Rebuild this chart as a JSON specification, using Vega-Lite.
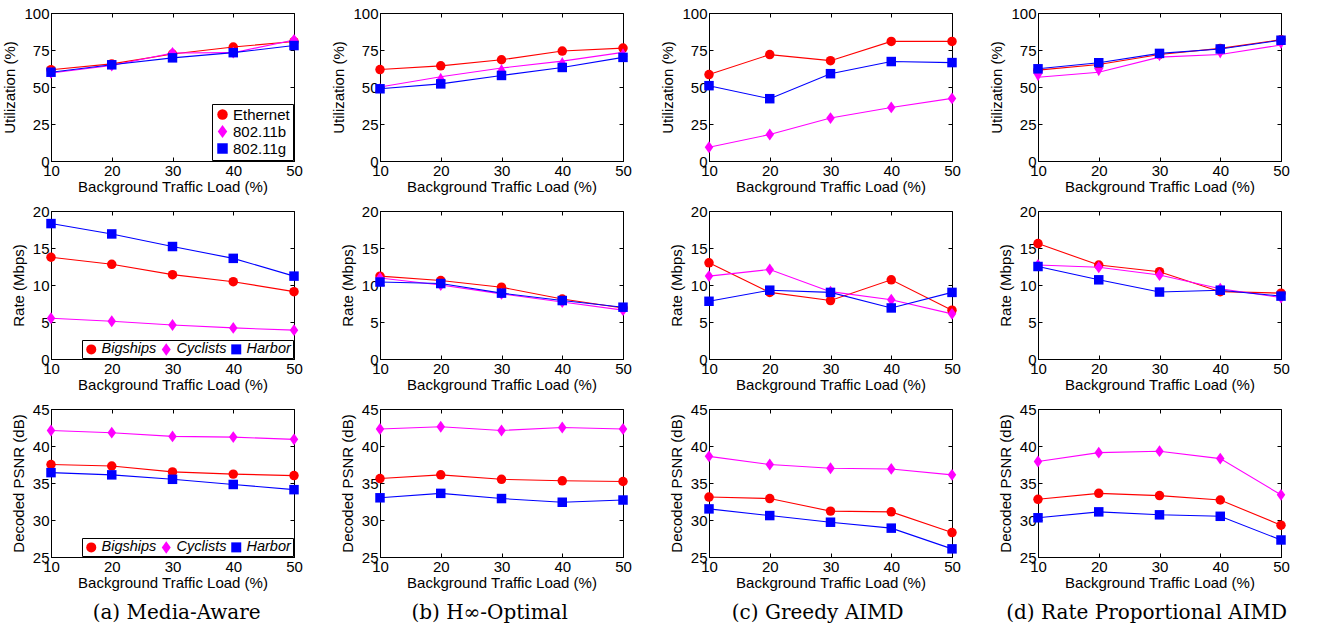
{
"$schema":"https://vega.github.io/schema/vega-lite/v6.json",
"background":"white",
"padding":{"left":2,"top":5,"right":5,"bottom":2},
"datasets":{
"util":[
{"scheme":"a","series":"Ethernet","load":10,"value":61.7},{"scheme":"a","series":"Ethernet","load":20,"value":65.6},{"scheme":"a","series":"Ethernet","load":30,"value":72.3},{"scheme":"a","series":"Ethernet","load":40,"value":77},{"scheme":"a","series":"Ethernet","load":50,"value":80.7},
{"scheme":"a","series":"802.11b","load":10,"value":59.5},{"scheme":"a","series":"802.11b","load":20,"value":64.5},{"scheme":"a","series":"802.11b","load":30,"value":73},{"scheme":"a","series":"802.11b","load":40,"value":73.2},{"scheme":"a","series":"802.11b","load":50,"value":81.8},
{"scheme":"a","series":"802.11g","load":10,"value":60},{"scheme":"a","series":"802.11g","load":20,"value":65},{"scheme":"a","series":"802.11g","load":30,"value":69.7},{"scheme":"a","series":"802.11g","load":40,"value":73.2},{"scheme":"a","series":"802.11g","load":50,"value":78},
{"scheme":"b","series":"Ethernet","load":10,"value":61.8},{"scheme":"b","series":"Ethernet","load":20,"value":64.3},{"scheme":"b","series":"Ethernet","load":30,"value":68.4},{"scheme":"b","series":"Ethernet","load":40,"value":74.3},{"scheme":"b","series":"Ethernet","load":50,"value":76.3},
{"scheme":"b","series":"802.11b","load":10,"value":50},{"scheme":"b","series":"802.11b","load":20,"value":56.9},{"scheme":"b","series":"802.11b","load":30,"value":62.8},{"scheme":"b","series":"802.11b","load":40,"value":67.5},{"scheme":"b","series":"802.11b","load":50,"value":73.4},
{"scheme":"b","series":"802.11g","load":10,"value":48.8},{"scheme":"b","series":"802.11g","load":20,"value":52.1},{"scheme":"b","series":"802.11g","load":30,"value":57.8},{"scheme":"b","series":"802.11g","load":40,"value":63.2},{"scheme":"b","series":"802.11g","load":50,"value":70},
{"scheme":"c","series":"Ethernet","load":10,"value":58.4},{"scheme":"c","series":"Ethernet","load":20,"value":71.9},{"scheme":"c","series":"Ethernet","load":30,"value":67.8},{"scheme":"c","series":"Ethernet","load":40,"value":80.8},{"scheme":"c","series":"Ethernet","load":50,"value":80.8},
{"scheme":"c","series":"802.11b","load":10,"value":9.3},{"scheme":"c","series":"802.11b","load":20,"value":17.9},{"scheme":"c","series":"802.11b","load":30,"value":29},{"scheme":"c","series":"802.11b","load":40,"value":36.2},{"scheme":"c","series":"802.11b","load":50,"value":42.3},
{"scheme":"c","series":"802.11g","load":10,"value":50.9},{"scheme":"c","series":"802.11g","load":20,"value":42.1},{"scheme":"c","series":"802.11g","load":30,"value":59},{"scheme":"c","series":"802.11g","load":40,"value":67.2},{"scheme":"c","series":"802.11g","load":50,"value":66.5},
{"scheme":"d","series":"Ethernet","load":10,"value":61.4},{"scheme":"d","series":"Ethernet","load":20,"value":65.2},{"scheme":"d","series":"Ethernet","load":30,"value":72},{"scheme":"d","series":"Ethernet","load":40,"value":76.1},{"scheme":"d","series":"Ethernet","load":50,"value":82},
{"scheme":"d","series":"802.11b","load":10,"value":56.6},{"scheme":"d","series":"802.11b","load":20,"value":60},{"scheme":"d","series":"802.11b","load":30,"value":70.2},{"scheme":"d","series":"802.11b","load":40,"value":72},{"scheme":"d","series":"802.11b","load":50,"value":78.4},
{"scheme":"d","series":"802.11g","load":10,"value":62.3},{"scheme":"d","series":"802.11g","load":20,"value":66.4},{"scheme":"d","series":"802.11g","load":30,"value":72.7},{"scheme":"d","series":"802.11g","load":40,"value":75.7},{"scheme":"d","series":"802.11g","load":50,"value":81.6}
],
"rate":[
{"scheme":"a","series":"Bigships","load":10,"value":13.75},{"scheme":"a","series":"Bigships","load":20,"value":12.8},{"scheme":"a","series":"Bigships","load":30,"value":11.4},{"scheme":"a","series":"Bigships","load":40,"value":10.45},{"scheme":"a","series":"Bigships","load":50,"value":9.1},
{"scheme":"a","series":"Cyclists","load":10,"value":5.5},{"scheme":"a","series":"Cyclists","load":20,"value":5.1},{"scheme":"a","series":"Cyclists","load":30,"value":4.6},{"scheme":"a","series":"Cyclists","load":40,"value":4.2},{"scheme":"a","series":"Cyclists","load":50,"value":3.9},
{"scheme":"a","series":"Harbor","load":10,"value":18.3},{"scheme":"a","series":"Harbor","load":20,"value":16.9},{"scheme":"a","series":"Harbor","load":30,"value":15.2},{"scheme":"a","series":"Harbor","load":40,"value":13.6},{"scheme":"a","series":"Harbor","load":50,"value":11.2},
{"scheme":"b","series":"Bigships","load":10,"value":11.2},{"scheme":"b","series":"Bigships","load":20,"value":10.6},{"scheme":"b","series":"Bigships","load":30,"value":9.7},{"scheme":"b","series":"Bigships","load":40,"value":8.1},{"scheme":"b","series":"Bigships","load":50,"value":6.9},
{"scheme":"b","series":"Cyclists","load":10,"value":10.95},{"scheme":"b","series":"Cyclists","load":20,"value":10.0},{"scheme":"b","series":"Cyclists","load":30,"value":8.8},{"scheme":"b","series":"Cyclists","load":40,"value":7.7},{"scheme":"b","series":"Cyclists","load":50,"value":6.6},
{"scheme":"b","series":"Harbor","load":10,"value":10.4},{"scheme":"b","series":"Harbor","load":20,"value":10.2},{"scheme":"b","series":"Harbor","load":30,"value":8.9},{"scheme":"b","series":"Harbor","load":40,"value":7.9},{"scheme":"b","series":"Harbor","load":50,"value":7.0},
{"scheme":"c","series":"Bigships","load":10,"value":13.0},{"scheme":"c","series":"Bigships","load":20,"value":9.0},{"scheme":"c","series":"Bigships","load":30,"value":7.9},{"scheme":"c","series":"Bigships","load":40,"value":10.7},{"scheme":"c","series":"Bigships","load":50,"value":6.6},
{"scheme":"c","series":"Cyclists","load":10,"value":11.2},{"scheme":"c","series":"Cyclists","load":20,"value":12.1},{"scheme":"c","series":"Cyclists","load":30,"value":9.1},{"scheme":"c","series":"Cyclists","load":40,"value":8.0},{"scheme":"c","series":"Cyclists","load":50,"value":6.1},
{"scheme":"c","series":"Harbor","load":10,"value":7.8},{"scheme":"c","series":"Harbor","load":20,"value":9.3},{"scheme":"c","series":"Harbor","load":30,"value":9.0},{"scheme":"c","series":"Harbor","load":40,"value":6.9},{"scheme":"c","series":"Harbor","load":50,"value":9.0},
{"scheme":"d","series":"Bigships","load":10,"value":15.6},{"scheme":"d","series":"Bigships","load":20,"value":12.7},{"scheme":"d","series":"Bigships","load":30,"value":11.8},{"scheme":"d","series":"Bigships","load":40,"value":9.1},{"scheme":"d","series":"Bigships","load":50,"value":8.9},
{"scheme":"d","series":"Cyclists","load":10,"value":12.7},{"scheme":"d","series":"Cyclists","load":20,"value":12.4},{"scheme":"d","series":"Cyclists","load":30,"value":11.35},{"scheme":"d","series":"Cyclists","load":40,"value":9.5},{"scheme":"d","series":"Cyclists","load":50,"value":8.3},
{"scheme":"d","series":"Harbor","load":10,"value":12.5},{"scheme":"d","series":"Harbor","load":20,"value":10.7},{"scheme":"d","series":"Harbor","load":30,"value":9.05},{"scheme":"d","series":"Harbor","load":40,"value":9.3},{"scheme":"d","series":"Harbor","load":50,"value":8.5}
],
"psnr":[
{"scheme":"a","series":"Bigships","load":10,"value":37.5},{"scheme":"a","series":"Bigships","load":20,"value":37.3},{"scheme":"a","series":"Bigships","load":30,"value":36.5},{"scheme":"a","series":"Bigships","load":40,"value":36.2},{"scheme":"a","series":"Bigships","load":50,"value":36.0},
{"scheme":"a","series":"Cyclists","load":10,"value":42.1},{"scheme":"a","series":"Cyclists","load":20,"value":41.8},{"scheme":"a","series":"Cyclists","load":30,"value":41.3},{"scheme":"a","series":"Cyclists","load":40,"value":41.2},{"scheme":"a","series":"Cyclists","load":50,"value":40.9},
{"scheme":"a","series":"Harbor","load":10,"value":36.4},{"scheme":"a","series":"Harbor","load":20,"value":36.1},{"scheme":"a","series":"Harbor","load":30,"value":35.5},{"scheme":"a","series":"Harbor","load":40,"value":34.8},{"scheme":"a","series":"Harbor","load":50,"value":34.1},
{"scheme":"b","series":"Bigships","load":10,"value":35.6},{"scheme":"b","series":"Bigships","load":20,"value":36.1},{"scheme":"b","series":"Bigships","load":30,"value":35.5},{"scheme":"b","series":"Bigships","load":40,"value":35.3},{"scheme":"b","series":"Bigships","load":50,"value":35.2},
{"scheme":"b","series":"Cyclists","load":10,"value":42.3},{"scheme":"b","series":"Cyclists","load":20,"value":42.6},{"scheme":"b","series":"Cyclists","load":30,"value":42.1},{"scheme":"b","series":"Cyclists","load":40,"value":42.5},{"scheme":"b","series":"Cyclists","load":50,"value":42.3},
{"scheme":"b","series":"Harbor","load":10,"value":33.0},{"scheme":"b","series":"Harbor","load":20,"value":33.6},{"scheme":"b","series":"Harbor","load":30,"value":32.9},{"scheme":"b","series":"Harbor","load":40,"value":32.4},{"scheme":"b","series":"Harbor","load":50,"value":32.7},
{"scheme":"c","series":"Bigships","load":10,"value":33.1},{"scheme":"c","series":"Bigships","load":20,"value":32.9},{"scheme":"c","series":"Bigships","load":30,"value":31.2},{"scheme":"c","series":"Bigships","load":40,"value":31.1},{"scheme":"c","series":"Bigships","load":50,"value":28.3},
{"scheme":"c","series":"Cyclists","load":10,"value":38.6},{"scheme":"c","series":"Cyclists","load":20,"value":37.5},{"scheme":"c","series":"Cyclists","load":30,"value":37.0},{"scheme":"c","series":"Cyclists","load":40,"value":36.9},{"scheme":"c","series":"Cyclists","load":50,"value":36.1},
{"scheme":"c","series":"Harbor","load":10,"value":31.5},{"scheme":"c","series":"Harbor","load":20,"value":30.6},{"scheme":"c","series":"Harbor","load":30,"value":29.7},{"scheme":"c","series":"Harbor","load":40,"value":28.9},{"scheme":"c","series":"Harbor","load":50,"value":26.1},
{"scheme":"d","series":"Bigships","load":10,"value":32.8},{"scheme":"d","series":"Bigships","load":20,"value":33.6},{"scheme":"d","series":"Bigships","load":30,"value":33.3},{"scheme":"d","series":"Bigships","load":40,"value":32.7},{"scheme":"d","series":"Bigships","load":50,"value":29.3},
{"scheme":"d","series":"Cyclists","load":10,"value":37.9},{"scheme":"d","series":"Cyclists","load":20,"value":39.1},{"scheme":"d","series":"Cyclists","load":30,"value":39.3},{"scheme":"d","series":"Cyclists","load":40,"value":38.3},{"scheme":"d","series":"Cyclists","load":50,"value":33.4},
{"scheme":"d","series":"Harbor","load":10,"value":30.3},{"scheme":"d","series":"Harbor","load":20,"value":31.1},{"scheme":"d","series":"Harbor","load":30,"value":30.7},{"scheme":"d","series":"Harbor","load":40,"value":30.5},{"scheme":"d","series":"Harbor","load":50,"value":27.3}
]
},
"spacing":28,
"resolve":{"scale":{"color":"independent","shape":"independent","stroke":"independent"},"legend":{"color":"independent","shape":"independent"}},
"hconcat":[
{"vconcat":[
 {"width":243,"height":148,"data":{"name":"util"},"transform":[{"filter":"datum.scheme==='a'"}],
  "resolve":{"axis":{"x":"independent","y":"independent"}},
  "layer":[
   {"mark":{"type":"line","strokeWidth":1.1},
    "encoding":{"x":{"field":"load","type":"quantitative","scale":{"domain":[10,50],"nice":false,"zero":false},"axis":{"orient":"top","labels":false,"title":null,"domain":false,"values":[10,20,30,40,50]}},
     "y":{"field":"value","type":"quantitative","scale":{"domain":[0,100],"nice":false},"axis":{"orient":"right","labels":false,"title":null,"domain":false,"values":[0,25,50,75,100]}},
     "stroke":{"field":"series","type":"nominal","scale":{"domain":["802.11g","802.11b","Ethernet"],"range":["#0000ff","#ff00ff","#ff0000"]},"legend":null}}},
   {"mark":{"type":"point","filled":true,"size":90,"opacity":1},
    "encoding":{"x":{"field":"load","type":"quantitative","scale":{"domain":[10,50],"nice":false,"zero":false},"axis":{"values":[10,20,30,40,50],"title":"Background Traffic Load (%)"}},
     "y":{"field":"value","type":"quantitative","scale":{"domain":[0,100],"nice":false},"axis":{"values":[0,25,50,75,100],"title":"Utilization (%)"}},
     "color":{"field":"series","type":"nominal","scale":{"domain":["Ethernet","802.11b","802.11g"],"range":["#ff0000","#ff00ff","#0000ff"]},"legend":{"title":null,"orient":"bottom-right","offset":1,"padding":3,"labelFontSize":15,"labelOffset":3,"symbolSize":110,"rowPadding":1}},
     "shape":{"field":"series","type":"nominal","scale":{"domain":["Ethernet","802.11b","802.11g"],"range":["circle","M0,-1.25L0.9,0L0,1.25L-0.9,0Z","square"]},"legend":{"title":null,"orient":"bottom-right","offset":1,"padding":3,"labelFontSize":15,"labelOffset":3,"symbolSize":110,"rowPadding":1}}}}]},
 {"width":243,"height":148,"data":{"name":"rate"},"transform":[{"filter":"datum.scheme==='a'"}],
  "resolve":{"axis":{"x":"independent","y":"independent"}},
  "layer":[
   {"mark":{"type":"line","strokeWidth":1.1},
    "encoding":{"x":{"field":"load","type":"quantitative","scale":{"domain":[10,50],"nice":false,"zero":false},"axis":{"orient":"top","labels":false,"title":null,"domain":false,"values":[10,20,30,40,50]}},
     "y":{"field":"value","type":"quantitative","scale":{"domain":[0,20],"nice":false},"axis":{"orient":"right","labels":false,"title":null,"domain":false,"values":[0,5,10,15,20]}},
     "stroke":{"field":"series","type":"nominal","scale":{"domain":["Harbor","Cyclists","Bigships"],"range":["#0000ff","#ff00ff","#ff0000"]},"legend":null}}},
   {"mark":{"type":"point","filled":true,"size":90,"opacity":1},
    "encoding":{"x":{"field":"load","type":"quantitative","scale":{"domain":[10,50],"nice":false,"zero":false},"axis":{"values":[10,20,30,40,50],"title":"Background Traffic Load (%)"}},
     "y":{"field":"value","type":"quantitative","scale":{"domain":[0,20],"nice":false},"axis":{"values":[0,5,10,15,20],"title":"Rate (Mbps)"}},
     "color":{"field":"series","type":"nominal","scale":{"domain":["Bigships","Cyclists","Harbor"],"range":["#ff0000","#ff00ff","#0000ff"]},"legend":{"title":null,"orient":"bottom-right","direction":"horizontal","offset":1,"padding":2,"labelFontSize":14.5,"labelOffset":3,"labelFontStyle":"italic","symbolSize":100,"columnPadding":2}},
     "shape":{"field":"series","type":"nominal","scale":{"domain":["Bigships","Cyclists","Harbor"],"range":["circle","M0,-1.25L0.9,0L0,1.25L-0.9,0Z","square"]},"legend":{"title":null,"orient":"bottom-right","direction":"horizontal","offset":1,"padding":2,"labelFontSize":14.5,"labelOffset":3,"labelFontStyle":"italic","symbolSize":100,"columnPadding":2}}}}]},
 {"width":243,"height":148,"data":{"name":"psnr"},"transform":[{"filter":"datum.scheme==='a'"}],
  "resolve":{"axis":{"x":"independent","y":"independent"}},
  "layer":[
   {"mark":{"type":"line","strokeWidth":1.1},
    "encoding":{"x":{"field":"load","type":"quantitative","scale":{"domain":[10,50],"nice":false,"zero":false},"axis":{"orient":"top","labels":false,"title":null,"domain":false,"values":[10,20,30,40,50]}},
     "y":{"field":"value","type":"quantitative","scale":{"domain":[25,45],"nice":false,"zero":false},"axis":{"orient":"right","labels":false,"title":null,"domain":false,"values":[25,30,35,40,45]}},
     "stroke":{"field":"series","type":"nominal","scale":{"domain":["Harbor","Cyclists","Bigships"],"range":["#0000ff","#ff00ff","#ff0000"]},"legend":null}}},
   {"mark":{"type":"point","filled":true,"size":90,"opacity":1},
    "encoding":{"x":{"field":"load","type":"quantitative","scale":{"domain":[10,50],"nice":false,"zero":false},"axis":{"values":[10,20,30,40,50],"title":"Background Traffic Load (%)"}},
     "y":{"field":"value","type":"quantitative","scale":{"domain":[25,45],"nice":false,"zero":false},"axis":{"values":[25,30,35,40,45],"title":"Decoded PSNR (dB)"}},
     "color":{"field":"series","type":"nominal","scale":{"domain":["Bigships","Cyclists","Harbor"],"range":["#ff0000","#ff00ff","#0000ff"]},"legend":{"title":null,"orient":"bottom-right","direction":"horizontal","offset":1,"padding":2,"labelFontSize":14.5,"labelOffset":3,"labelFontStyle":"italic","symbolSize":100,"columnPadding":2}},
     "shape":{"field":"series","type":"nominal","scale":{"domain":["Bigships","Cyclists","Harbor"],"range":["circle","M0,-1.25L0.9,0L0,1.25L-0.9,0Z","square"]},"legend":{"title":null,"orient":"bottom-right","direction":"horizontal","offset":1,"padding":2,"labelFontSize":14.5,"labelOffset":3,"labelFontStyle":"italic","symbolSize":100,"columnPadding":2}}}}]}
 ],"spacing":8,"title":{"text":"(a) Media-Aware","dx":24},
 "resolve":{"scale":{"color":"independent","shape":"independent","stroke":"independent"},"legend":{"color":"independent","shape":"independent"}}},
{"vconcat":[
 {"width":243,"height":148,"data":{"name":"util"},"transform":[{"filter":"datum.scheme==='b'"}],
  "resolve":{"axis":{"x":"independent","y":"independent"}},
  "layer":[
   {"mark":{"type":"line","strokeWidth":1.1},
    "encoding":{"x":{"field":"load","type":"quantitative","scale":{"domain":[10,50],"nice":false,"zero":false},"axis":{"orient":"top","labels":false,"title":null,"domain":false,"values":[10,20,30,40,50]}},
     "y":{"field":"value","type":"quantitative","scale":{"domain":[0,100],"nice":false},"axis":{"orient":"right","labels":false,"title":null,"domain":false,"values":[0,25,50,75,100]}},
     "stroke":{"field":"series","type":"nominal","scale":{"domain":["Ethernet","802.11b","802.11g"],"range":["#ff0000","#ff00ff","#0000ff"]},"legend":null}}},
   {"mark":{"type":"point","filled":true,"size":90,"opacity":1},
    "encoding":{"x":{"field":"load","type":"quantitative","scale":{"domain":[10,50],"nice":false,"zero":false},"axis":{"values":[10,20,30,40,50],"title":"Background Traffic Load (%)"}},
     "y":{"field":"value","type":"quantitative","scale":{"domain":[0,100],"nice":false},"axis":{"values":[0,25,50,75,100],"title":"Utilization (%)"}},
     "color":{"field":"series","type":"nominal","scale":{"domain":["Ethernet","802.11b","802.11g"],"range":["#ff0000","#ff00ff","#0000ff"]},"legend":null},
     "shape":{"field":"series","type":"nominal","scale":{"domain":["Ethernet","802.11b","802.11g"],"range":["circle","triangle-up","square"]},"legend":null}}}]},
 {"width":243,"height":148,"data":{"name":"rate"},"transform":[{"filter":"datum.scheme==='b'"}],
  "resolve":{"axis":{"x":"independent","y":"independent"}},
  "layer":[
   {"mark":{"type":"line","strokeWidth":1.1},
    "encoding":{"x":{"field":"load","type":"quantitative","scale":{"domain":[10,50],"nice":false,"zero":false},"axis":{"orient":"top","labels":false,"title":null,"domain":false,"values":[10,20,30,40,50]}},
     "y":{"field":"value","type":"quantitative","scale":{"domain":[0,20],"nice":false},"axis":{"orient":"right","labels":false,"title":null,"domain":false,"values":[0,5,10,15,20]}},
     "stroke":{"field":"series","type":"nominal","scale":{"domain":["Bigships","Cyclists","Harbor"],"range":["#ff0000","#ff00ff","#0000ff"]},"legend":null}}},
   {"mark":{"type":"point","filled":true,"size":90,"opacity":1},
    "encoding":{"x":{"field":"load","type":"quantitative","scale":{"domain":[10,50],"nice":false,"zero":false},"axis":{"values":[10,20,30,40,50],"title":"Background Traffic Load (%)"}},
     "y":{"field":"value","type":"quantitative","scale":{"domain":[0,20],"nice":false},"axis":{"values":[0,5,10,15,20],"title":"Rate (Mbps)"}},
     "color":{"field":"series","type":"nominal","scale":{"domain":["Bigships","Cyclists","Harbor"],"range":["#ff0000","#ff00ff","#0000ff"]},"legend":null},
     "shape":{"field":"series","type":"nominal","scale":{"domain":["Bigships","Cyclists","Harbor"],"range":["circle","M0,-1.25L0.9,0L0,1.25L-0.9,0Z","square"]},"legend":null}}}]},
 {"width":243,"height":148,"data":{"name":"psnr"},"transform":[{"filter":"datum.scheme==='b'"}],
  "resolve":{"axis":{"x":"independent","y":"independent"}},
  "layer":[
   {"mark":{"type":"line","strokeWidth":1.1},
    "encoding":{"x":{"field":"load","type":"quantitative","scale":{"domain":[10,50],"nice":false,"zero":false},"axis":{"orient":"top","labels":false,"title":null,"domain":false,"values":[10,20,30,40,50]}},
     "y":{"field":"value","type":"quantitative","scale":{"domain":[25,45],"nice":false,"zero":false},"axis":{"orient":"right","labels":false,"title":null,"domain":false,"values":[25,30,35,40,45]}},
     "stroke":{"field":"series","type":"nominal","scale":{"domain":["Bigships","Cyclists","Harbor"],"range":["#ff0000","#ff00ff","#0000ff"]},"legend":null}}},
   {"mark":{"type":"point","filled":true,"size":90,"opacity":1},
    "encoding":{"x":{"field":"load","type":"quantitative","scale":{"domain":[10,50],"nice":false,"zero":false},"axis":{"values":[10,20,30,40,50],"title":"Background Traffic Load (%)"}},
     "y":{"field":"value","type":"quantitative","scale":{"domain":[25,45],"nice":false,"zero":false},"axis":{"values":[25,30,35,40,45],"title":"Decoded PSNR (dB)"}},
     "color":{"field":"series","type":"nominal","scale":{"domain":["Bigships","Cyclists","Harbor"],"range":["#ff0000","#ff00ff","#0000ff"]},"legend":null},
     "shape":{"field":"series","type":"nominal","scale":{"domain":["Bigships","Cyclists","Harbor"],"range":["circle","M0,-1.25L0.9,0L0,1.25L-0.9,0Z","square"]},"legend":null}}}]}
 ],"spacing":8,"title":{"text":"(b) H∞-Optimal","dx":8},
 "resolve":{"scale":{"color":"independent","shape":"independent","stroke":"independent"},"legend":{"color":"independent","shape":"independent"}}},
{"vconcat":[
 {"width":243,"height":148,"data":{"name":"util"},"transform":[{"filter":"datum.scheme==='c'"}],
  "resolve":{"axis":{"x":"independent","y":"independent"}},
  "layer":[
   {"mark":{"type":"line","strokeWidth":1.1},
    "encoding":{"x":{"field":"load","type":"quantitative","scale":{"domain":[10,50],"nice":false,"zero":false},"axis":{"orient":"top","labels":false,"title":null,"domain":false,"values":[10,20,30,40,50]}},
     "y":{"field":"value","type":"quantitative","scale":{"domain":[0,100],"nice":false},"axis":{"orient":"right","labels":false,"title":null,"domain":false,"values":[0,25,50,75,100]}},
     "stroke":{"field":"series","type":"nominal","scale":{"domain":["Ethernet","802.11b","802.11g"],"range":["#ff0000","#ff00ff","#0000ff"]},"legend":null}}},
   {"mark":{"type":"point","filled":true,"size":90,"opacity":1},
    "encoding":{"x":{"field":"load","type":"quantitative","scale":{"domain":[10,50],"nice":false,"zero":false},"axis":{"values":[10,20,30,40,50],"title":"Background Traffic Load (%)"}},
     "y":{"field":"value","type":"quantitative","scale":{"domain":[0,100],"nice":false},"axis":{"values":[0,25,50,75,100],"title":"Utilization (%)"}},
     "color":{"field":"series","type":"nominal","scale":{"domain":["Ethernet","802.11b","802.11g"],"range":["#ff0000","#ff00ff","#0000ff"]},"legend":null},
     "shape":{"field":"series","type":"nominal","scale":{"domain":["Ethernet","802.11b","802.11g"],"range":["circle","M0,-1.25L0.9,0L0,1.25L-0.9,0Z","square"]},"legend":null}}}]},
 {"width":243,"height":148,"data":{"name":"rate"},"transform":[{"filter":"datum.scheme==='c'"}],
  "resolve":{"axis":{"x":"independent","y":"independent"}},
  "layer":[
   {"mark":{"type":"line","strokeWidth":1.1},
    "encoding":{"x":{"field":"load","type":"quantitative","scale":{"domain":[10,50],"nice":false,"zero":false},"axis":{"orient":"top","labels":false,"title":null,"domain":false,"values":[10,20,30,40,50]}},
     "y":{"field":"value","type":"quantitative","scale":{"domain":[0,20],"nice":false},"axis":{"orient":"right","labels":false,"title":null,"domain":false,"values":[0,5,10,15,20]}},
     "stroke":{"field":"series","type":"nominal","scale":{"domain":["Bigships","Cyclists","Harbor"],"range":["#ff0000","#ff00ff","#0000ff"]},"legend":null}}},
   {"mark":{"type":"point","filled":true,"size":90,"opacity":1},
    "encoding":{"x":{"field":"load","type":"quantitative","scale":{"domain":[10,50],"nice":false,"zero":false},"axis":{"values":[10,20,30,40,50],"title":"Background Traffic Load (%)"}},
     "y":{"field":"value","type":"quantitative","scale":{"domain":[0,20],"nice":false},"axis":{"values":[0,5,10,15,20],"title":"Rate (Mbps)"}},
     "color":{"field":"series","type":"nominal","scale":{"domain":["Bigships","Cyclists","Harbor"],"range":["#ff0000","#ff00ff","#0000ff"]},"legend":null},
     "shape":{"field":"series","type":"nominal","scale":{"domain":["Bigships","Cyclists","Harbor"],"range":["circle","M0,-1.25L0.9,0L0,1.25L-0.9,0Z","square"]},"legend":null}}}]},
 {"width":243,"height":148,"data":{"name":"psnr"},"transform":[{"filter":"datum.scheme==='c'"}],
  "resolve":{"axis":{"x":"independent","y":"independent"}},
  "layer":[
   {"mark":{"type":"line","strokeWidth":1.1},
    "encoding":{"x":{"field":"load","type":"quantitative","scale":{"domain":[10,50],"nice":false,"zero":false},"axis":{"orient":"top","labels":false,"title":null,"domain":false,"values":[10,20,30,40,50]}},
     "y":{"field":"value","type":"quantitative","scale":{"domain":[25,45],"nice":false,"zero":false},"axis":{"orient":"right","labels":false,"title":null,"domain":false,"values":[25,30,35,40,45]}},
     "stroke":{"field":"series","type":"nominal","scale":{"domain":["Bigships","Cyclists","Harbor"],"range":["#ff0000","#ff00ff","#0000ff"]},"legend":null}}},
   {"mark":{"type":"point","filled":true,"size":90,"opacity":1},
    "encoding":{"x":{"field":"load","type":"quantitative","scale":{"domain":[10,50],"nice":false,"zero":false},"axis":{"values":[10,20,30,40,50],"title":"Background Traffic Load (%)"}},
     "y":{"field":"value","type":"quantitative","scale":{"domain":[25,45],"nice":false,"zero":false},"axis":{"values":[25,30,35,40,45],"title":"Decoded PSNR (dB)"}},
     "color":{"field":"series","type":"nominal","scale":{"domain":["Bigships","Cyclists","Harbor"],"range":["#ff0000","#ff00ff","#0000ff"]},"legend":null},
     "shape":{"field":"series","type":"nominal","scale":{"domain":["Bigships","Cyclists","Harbor"],"range":["circle","M0,-1.25L0.9,0L0,1.25L-0.9,0Z","square"]},"legend":null}}}]}
 ],"spacing":8,"title":{"text":"(c) Greedy AIMD","dx":7},
 "resolve":{"scale":{"color":"independent","shape":"independent","stroke":"independent"},"legend":{"color":"independent","shape":"independent"}}},
{"vconcat":[
 {"width":243,"height":148,"data":{"name":"util"},"transform":[{"filter":"datum.scheme==='d'"}],
  "resolve":{"axis":{"x":"independent","y":"independent"}},
  "layer":[
   {"mark":{"type":"line","strokeWidth":1.1},
    "encoding":{"x":{"field":"load","type":"quantitative","scale":{"domain":[10,50],"nice":false,"zero":false},"axis":{"orient":"top","labels":false,"title":null,"domain":false,"values":[10,20,30,40,50]}},
     "y":{"field":"value","type":"quantitative","scale":{"domain":[0,100],"nice":false},"axis":{"orient":"right","labels":false,"title":null,"domain":false,"values":[0,25,50,75,100]}},
     "stroke":{"field":"series","type":"nominal","scale":{"domain":["Ethernet","802.11b","802.11g"],"range":["#ff0000","#ff00ff","#0000ff"]},"legend":null}}},
   {"mark":{"type":"point","filled":true,"size":90,"opacity":1},
    "encoding":{"x":{"field":"load","type":"quantitative","scale":{"domain":[10,50],"nice":false,"zero":false},"axis":{"values":[10,20,30,40,50],"title":"Background Traffic Load (%)"}},
     "y":{"field":"value","type":"quantitative","scale":{"domain":[0,100],"nice":false},"axis":{"values":[0,25,50,75,100],"title":"Utilization (%)"}},
     "color":{"field":"series","type":"nominal","scale":{"domain":["Ethernet","802.11b","802.11g"],"range":["#ff0000","#ff00ff","#0000ff"]},"legend":null},
     "shape":{"field":"series","type":"nominal","scale":{"domain":["Ethernet","802.11b","802.11g"],"range":["circle","triangle-down","square"]},"legend":null}}}]},
 {"width":243,"height":148,"data":{"name":"rate"},"transform":[{"filter":"datum.scheme==='d'"}],
  "resolve":{"axis":{"x":"independent","y":"independent"}},
  "layer":[
   {"mark":{"type":"line","strokeWidth":1.1},
    "encoding":{"x":{"field":"load","type":"quantitative","scale":{"domain":[10,50],"nice":false,"zero":false},"axis":{"orient":"top","labels":false,"title":null,"domain":false,"values":[10,20,30,40,50]}},
     "y":{"field":"value","type":"quantitative","scale":{"domain":[0,20],"nice":false},"axis":{"orient":"right","labels":false,"title":null,"domain":false,"values":[0,5,10,15,20]}},
     "stroke":{"field":"series","type":"nominal","scale":{"domain":["Bigships","Cyclists","Harbor"],"range":["#ff0000","#ff00ff","#0000ff"]},"legend":null}}},
   {"mark":{"type":"point","filled":true,"size":90,"opacity":1},
    "encoding":{"x":{"field":"load","type":"quantitative","scale":{"domain":[10,50],"nice":false,"zero":false},"axis":{"values":[10,20,30,40,50],"title":"Background Traffic Load (%)"}},
     "y":{"field":"value","type":"quantitative","scale":{"domain":[0,20],"nice":false},"axis":{"values":[0,5,10,15,20],"title":"Rate (Mbps)"}},
     "color":{"field":"series","type":"nominal","scale":{"domain":["Bigships","Cyclists","Harbor"],"range":["#ff0000","#ff00ff","#0000ff"]},"legend":null},
     "shape":{"field":"series","type":"nominal","scale":{"domain":["Bigships","Cyclists","Harbor"],"range":["circle","M0,-1.25L0.9,0L0,1.25L-0.9,0Z","square"]},"legend":null}}}]},
 {"width":243,"height":148,"data":{"name":"psnr"},"transform":[{"filter":"datum.scheme==='d'"}],
  "resolve":{"axis":{"x":"independent","y":"independent"}},
  "layer":[
   {"mark":{"type":"line","strokeWidth":1.1},
    "encoding":{"x":{"field":"load","type":"quantitative","scale":{"domain":[10,50],"nice":false,"zero":false},"axis":{"orient":"top","labels":false,"title":null,"domain":false,"values":[10,20,30,40,50]}},
     "y":{"field":"value","type":"quantitative","scale":{"domain":[25,45],"nice":false,"zero":false},"axis":{"orient":"right","labels":false,"title":null,"domain":false,"values":[25,30,35,40,45]}},
     "stroke":{"field":"series","type":"nominal","scale":{"domain":["Bigships","Cyclists","Harbor"],"range":["#ff0000","#ff00ff","#0000ff"]},"legend":null}}},
   {"mark":{"type":"point","filled":true,"size":90,"opacity":1},
    "encoding":{"x":{"field":"load","type":"quantitative","scale":{"domain":[10,50],"nice":false,"zero":false},"axis":{"values":[10,20,30,40,50],"title":"Background Traffic Load (%)"}},
     "y":{"field":"value","type":"quantitative","scale":{"domain":[25,45],"nice":false,"zero":false},"axis":{"values":[25,30,35,40,45],"title":"Decoded PSNR (dB)"}},
     "color":{"field":"series","type":"nominal","scale":{"domain":["Bigships","Cyclists","Harbor"],"range":["#ff0000","#ff00ff","#0000ff"]},"legend":null},
     "shape":{"field":"series","type":"nominal","scale":{"domain":["Bigships","Cyclists","Harbor"],"range":["circle","M0,-1.25L0.9,0L0,1.25L-0.9,0Z","square"]},"legend":null}}}]}
 ],"spacing":8,"title":{"text":"(d) Rate Proportional AIMD","dx":7},
 "resolve":{"scale":{"color":"independent","shape":"independent","stroke":"independent"},"legend":{"color":"independent","shape":"independent"}}}
],
"config":{
 "font":"Liberation Sans",
 "view":{"stroke":"black","strokeWidth":1},
 "axis":{"grid":false,"domainColor":"black","tickColor":"black","labelColor":"black","titleColor":"black","labelFont":"Liberation Sans","titleFont":"Liberation Sans","labelFontSize":15,"titleFontSize":15,"titleFontWeight":"normal","tickSize":-4,"labelPadding":6,"labelFlush":false},
 "axisX":{"titlePadding":1},
 "axisY":{"titlePadding":6},
 "legend":{"labelFont":"Liberation Sans","labelColor":"black","strokeColor":"black","fillColor":"white","strokeWidth":1},
 "title":{"orient":"bottom","font":"DejaVu Serif","fontSize":20,"fontWeight":"normal","color":"black","offset":12,"anchor":"middle"}
}
}
